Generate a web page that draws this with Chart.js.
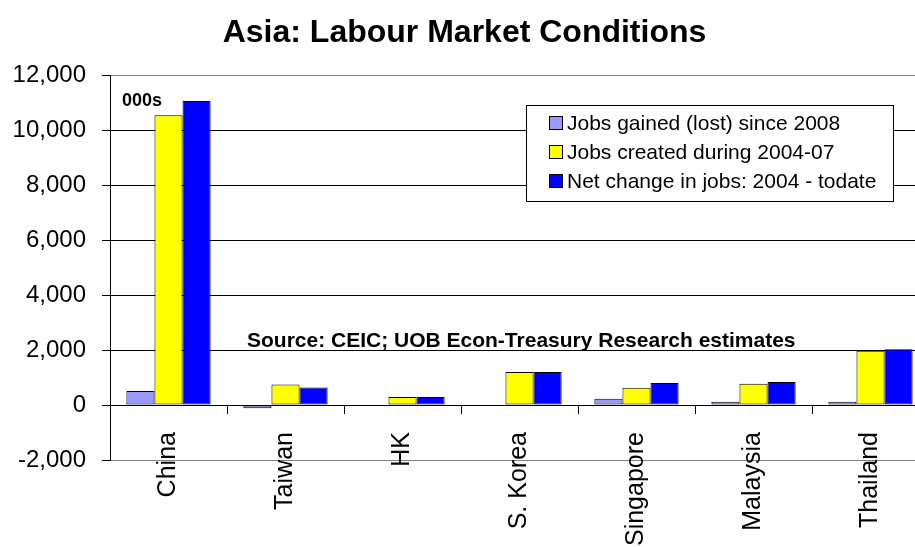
<!DOCTYPE html>
<html>
<head>
<meta charset="utf-8">
<title>Asia: Labour Market Conditions</title>
<script src="https://cdn.jsdelivr.net/npm/chart.js@4/dist/chart.umd.min.js"></script>
<style>
    body { margin: 0; background: #fff; }
    #wrap { width: 915px; height: 547px; overflow: hidden; }
</style>
</head>
<body>
<div id="wrap">
    <canvas id="chart" width="940" height="547"></canvas>
</div>
<script>
// Data (thousands of jobs)
const countries = ['China', 'Taiwan', 'HK', 'S. Korea', 'Singapore', 'Malaysia', 'Thailand'];
const jobsGained = [510, -120, 0, 0, 230, 120, 120];
const jobsCreated = [10550, 750, 290, 1200, 630, 775, 1975];
const netChange = [11070, 640, 290, 1200, 800, 835, 2035];

const seriesNames = ['Jobs gained (lost) since 2008', 'Jobs created during 2004-07', 'Net change in jobs: 2004 - todate'];
const seriesColors = ['#9999FF', '#FFFF00', '#0000FF'];

const yMin = -2000;
const yMax = 12000;
const yStep = 2000;

const fontFamily = '"Liberation Sans", Arial, sans-serif';
Chart.defaults.font.family = fontFamily;
Chart.defaults.color = '#000';

// Legend box + the two notes inside the plot
const notesPlugin = {
    id: 'notes',
    afterDraw(chart) {
        const c = chart.ctx;
        const area = chart.chartArea;
        c.save();

        // "000s" unit note
        c.fillStyle = '#000';
        c.font = 'bold 18px ' + fontFamily;
        c.textBaseline = 'alphabetic';
        c.textAlign = 'left';
        c.fillText('000s', area.left + 12, area.top + 31);

        // source note, sits just above the 2,000 gridline
        const y2000 = chart.scales.y.getPixelForValue(2000);
        c.font = 'bold 21px ' + fontFamily;
        c.fillText('Source: CEIC; UOB Econ-Treasury Research estimates', 247, y2000 - 3);

        // legend box
        const bx = 526, by = 105, bw = 367, bh = 96;
        c.fillStyle = '#fff';
        c.fillRect(bx, by, bw, bh);
        c.strokeStyle = '#000';
        c.lineWidth = 1;
        c.strokeRect(bx + 0.5, by + 0.5, bw, bh);

        c.font = '21px ' + fontFamily;
        c.textBaseline = 'middle';
        chart.data.datasets.forEach((ds, i) => {
            const cy = by + 18 + i * 29;
            c.fillStyle = ds.backgroundColor;
            c.fillRect(bx + 23, cy - 7, 14, 14);
            c.strokeStyle = '#000';
            c.strokeRect(bx + 23.5, cy - 6.5, 13, 13);
            c.fillStyle = '#000';
            c.fillText(ds.label, bx + 41, cy + 1);
        });

        c.restore();
    }
};

const seriesData = [jobsGained, jobsCreated, netChange];

const ctx = document.getElementById('chart').getContext('2d');
const chart = new Chart(ctx, {
    type: 'bar',
    data: {
        labels: countries,
        datasets: seriesData.map((values, i) => ({
            label: seriesNames[i],
            data: values,
            backgroundColor: seriesColors[i],
            borderColor: '#000',
            borderWidth: 1,
            borderSkipped: false,
            categoryPercentage: 0.72,
            barPercentage: 1.0
        }))
    },
    options: {
        responsive: false,
        animation: false,
        layout: {
            padding: { left: 0, right: 11, top: 0, bottom: 87 }
        },
        plugins: {
            legend: { display: false },
            tooltip: { enabled: false },
            title: {
                display: true,
                text: 'Asia: Labour Market Conditions',
                color: '#000',
                font: { size: 32, weight: 'bold' },
                padding: { top: 14, bottom: 23 }
            }
        },
        scales: {
            x: {
                position: { y: 0 },
                ticks: {
                    maxRotation: 90,
                    minRotation: 90,
                    color: '#000',
                    font: { size: 25 },
                    padding: 19
                },
                grid: {
                    drawOnChartArea: false,
                    offset: true,
                    tickLength: 8,
                    color: '#000'
                },
                border: { color: '#000' }
            },
            y: {
                min: yMin,
                max: yMax,
                ticks: {
                    stepSize: yStep,
                    color: '#000',
                    font: { size: 24 },
                    padding: 16
                },
                grid: {
                    color: c => (c.tick && (c.tick.value === yMax || c.tick.value === yMin)) ? '#808080' : '#000',
                    tickLength: 8,
                    tickColor: '#000'
                },
                border: { color: '#000' },
                afterFit: s => { s.width = 110; }
            }
        }
    },
    plugins: [notesPlugin]
});
</script>
</body>
</html>
